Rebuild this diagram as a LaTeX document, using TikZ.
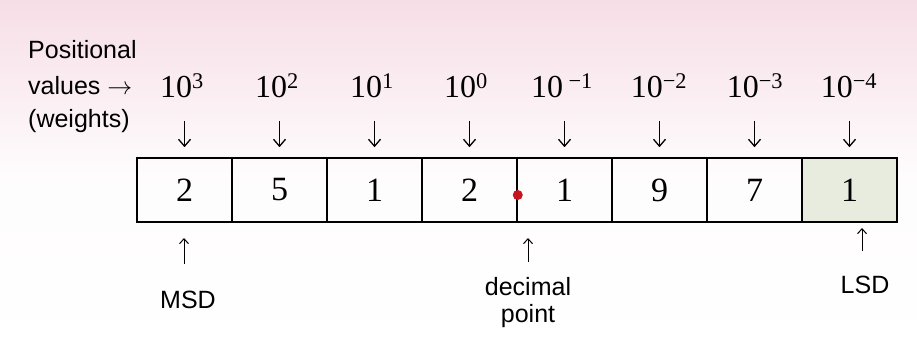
\documentclass[tikz,border=0pt]{standalone}
\usepackage{fontspec}
\setmainfont{Liberation Serif}
\newfontfamily\lab{Liberation Sans}
\usetikzlibrary{arrows.meta}
\definecolor{bgpink}{RGB}{246,222,230}
\definecolor{lsdfill}{RGB}{232,236,222}
\definecolor{dotred}{RGB}{200,20,30}
\tikzset{
  cell/.style={draw, line width=1.5pt, minimum width=95pt, minimum height=64pt, inner sep=0pt,
    font=\fontsize{34}{36}\selectfont},
  weight/.style={inner sep=0pt, font=\fontsize{32}{34}\selectfont},
  lbl/.style={inner sep=0pt, font=\lab\fontsize{25}{29}\selectfont, align=center},
  downarr/.style={line width=1.3pt, -{Straight Barb[length=7pt,width=12pt,line width=1.3pt]}},
  uparr/.style={line width=1pt, -{Straight Barb[length=5pt,width=9pt,line width=1pt]}}
}
\begin{document}
\begin{tikzpicture}[x=1pt,y=-1pt]
\useasboundingbox (0,0) rectangle (917,352);
\shade[top color=bgpink, bottom color=white, middle color=white!92!bgpink] (0,0) rectangle (917,352);
% left labels
\node[lbl, anchor=west] (pos) at (28,50) {Positional};
\node[lbl, anchor=west] (val) at (28,86) {values $\rightarrow$};
\node[lbl, anchor=west] (wgt) at (28,121) {(weights)};
% cells
\foreach \i/\d in {1/2,2/5,3/1,4/2,5/1,6/9,7/7} {
  \node[cell] (c\i) at ({137+95*(\i-0.5)},190) {\d};
}
\node[cell, fill=lsdfill] (c8) at ({137+95*7.5},190) {1};
% weights
\node[weight] (w1) at (182,86) {10\textsuperscript{3}};
\node[weight] (w2) at (277,86) {10\textsuperscript{2}};
\node[weight] (w3) at (372,86) {10\textsuperscript{1}};
\node[weight] (w4) at (466,86) {10\textsuperscript{0}};
\node[weight] (w5) at (562,86) {10\,\textsuperscript{−1}};
\node[weight] (w6) at (659,86) {10\textsuperscript{−2}};
\node[weight] (w7) at (755,86) {10\textsuperscript{−3}};
\node[weight] (w8) at (849,86) {10\textsuperscript{−4}};
% down arrows
\foreach \i in {1,...,8} {
  \coordinate (s\i) at ({137+95*(\i-0.5)},121);
  \draw[downarr] (s\i) -- ([yshift=10pt]c\i.north);
}
% decimal point dot
\fill[dotred] ([yshift=-5pt]c4.east) circle (5pt);
% bottom labels
\node[lbl] (msd) at (188,300) {MSD};
\node[lbl] (dec) at (528,303) {decimal\\[-2pt]point};
\node[lbl] (lsd) at (865,285) {LSD};
\coordinate (msdtip) at (184,238);
\coordinate (msdtail) at (184,264);
\coordinate (dectip) at (528,238);
\coordinate (dectail) at (528,262);
\coordinate (lsdtip) at (862,228);
\coordinate (lsdtail) at (862,251);
\draw[uparr] (msdtail) -- (msdtip);
\draw[uparr] (dectail) -- (dectip);
\draw[uparr] (lsdtail) -- (lsdtip);
\end{tikzpicture}
\end{document}
